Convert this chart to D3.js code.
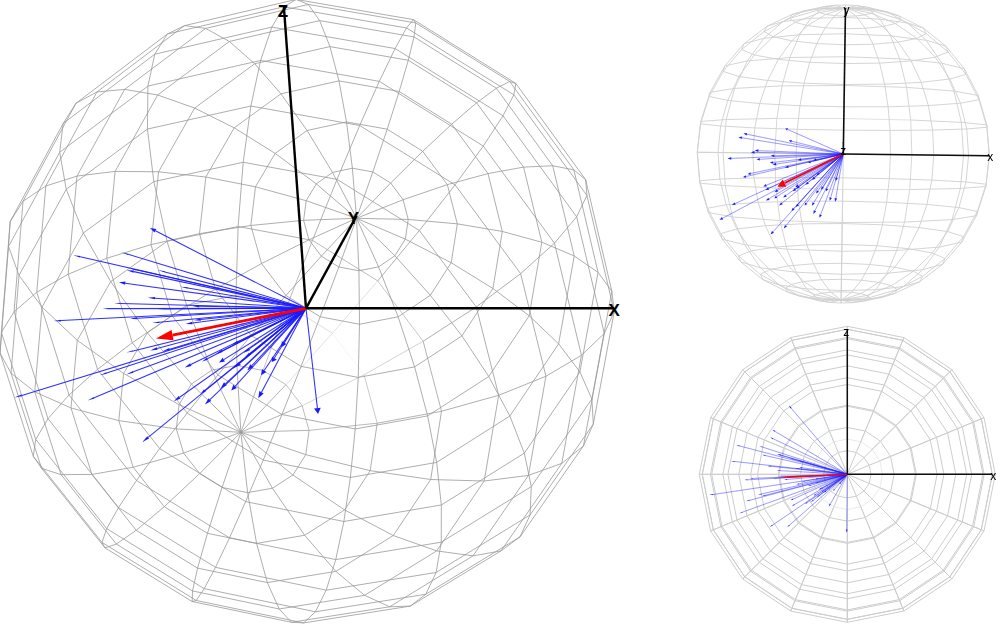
<!DOCTYPE html>
<html>
<head>
<meta charset="utf-8">
<style>
  html, body { margin: 0; background: #fff; }
  svg { display: block; }
  text { font-family: "Liberation Sans", sans-serif; fill: #000; text-anchor: middle; dominant-baseline: central; }
</style>
<script src="https://cdn.jsdelivr.net/npm/d3@7"></script>
</head>
<body>
<svg id="chart" width="1000" height="625"></svg>
<script>
// Blue vectors
const vecX = [-0.004, -0.43, -0.69, -0.725, -0.391, -0.608, -0.59, -0.76, -0.61, -0.483, -0.505, -0.48, -0.39, -0.314, -0.21, -0.25, -0.677, -0.72, -0.56, -0.524, -0.455, -0.5, -0.5, -0.745, -0.862, -0.435, -0.41, -0.34, -0.316, -0.32, -0.26, -0.214, -0.185, -0.186, -0.152, -0.12, -0.05, -0.09, -0.051, -0.324, -0.36, -0.27, -0.215, -0.2, -0.16, -0.365, -0.463];
const vecY = [0.087, 0.183, 0.133, 0.107, 0.092, 0.004, 0.016, -0.039, -0.046, -0.018, -0.067, -0.078, -0.095, -0.045, -0.046, -0.064, -0.151, -0.176, -0.235, -0.25, -0.26, -0.31, -0.33, -0.353, -0.473, -0.358, -0.305, -0.257, -0.24, -0.228, -0.217, -0.182, -0.15, -0.279, -0.252, -0.267, -0.188, -0.328, -0.331, -0.372, -0.407, -0.37, -0.366, -0.415, -0.449, -0.47, -0.527];
const vecZ = [-0.41, -0.378, -0.03, -0.04, -0.224, 0.195, 0.135, 0.2, -0.14, 0.14, -0.027, 0.026, 0.109, -0.05, -0.158, -0.19, -0.18, -0.26, -0.143, 0.055, 0.13, 0.24, -0.34, 0.085, -0.13, -0.012, -0.035, 0.04, 0.046, 0.09, -0.078, -0.06, -0.1, -0.1, -0.12, -0.21, -0.065, -0.106, -0.06, -0.064, -0.165, -0.19, -0.136, -0.03, -0.11, 0.43, 0.275];
// Mean vector in red
const meanVec = [-0.45, -0.23, -0.02];

// Wireframe sphere: slices and stacks
const sliceCount = 16;
const stackCount = 16;

const mainLabels = ['X', 'Y', 'Z'];
const topLabels = ['x', 'y', 'z'];
const sideLabels = ['x', 'y', 'z'];

const axes = [[1, 0, 0], [0, 1, 0], [0, 0, 1]];

const panels = [
    {
        name: 'main', ox: 306, oy: 308.3, scale: 306, dist: 7.3,
        r: [0.98, 0.186, -0.069], u: [0, 0.34, 0.94], w: [0.198, -0.92, 0.333],
        glow: [0.11, -0.09, 1], glowPower: 60, labels: mainLabels, hidden: [], fontSize: 17, fontWeight: 'bold',
        labelShift: [[0, 2], [-3, 3], [-1, 5]], meshShift: 3.5, meshStretch: 1.012,
        meshColor: '#999999', meshWidth: 0.8, axisWidth: 2.4, axisColor: '#000',
        blueWidth: 1.05, blueOpacity: 0.9, redWidth: 2.8, headBase: 0.002, headGain: 0.009, redHead: 0.017, soft: false
    },
    {
        name: 'top', ox: 843.3, oy: 154, scale: 146, dist: 5,
        r: [1, 0.015, 0], u: [-0.012, 1, 0], w: [0, 0, 1],
        glow: [0, 0, 1], glowPower: 30, labels: topLabels, hidden: [], fontSize: 12, fontWeight: 'normal',
        labelShift: [[1, 1], [1, 2], [0, -3]], meshShift: 0, meshStretch: 1,
        meshColor: '#d0d0d0', meshWidth: 0.9, axisWidth: 1.6, axisColor: '#111',
        blueWidth: 0.8, blueOpacity: 0.55, redWidth: 1.7, headBase: 0.009, headGain: 0, redHead: 0.028, soft: true
    },
    {
        name: 'side', ox: 847.3, oy: 474.3, scale: 145, dist: 5,
        r: [1, 0, 0], u: [0, 0, 1], w: [0, -1, 0],
        glow: [0, 0, 1], glowPower: 30, labels: sideLabels, hidden: ['y'], fontSize: 12, fontWeight: 'normal',
        labelShift: [[1, 2], [0, 0], [-1, 3]], meshShift: 0, meshStretch: 1,
        meshColor: '#cdcdcd', meshWidth: 1, axisWidth: 1.5, axisColor: '#111',
        blueWidth: 0.8, blueOpacity: 0.55, redWidth: 1.3, headBase: 0.003, headGain: 0.003, redHead: 0.006, soft: true
    }
];

const svg = d3.select('#chart');

svg.append('defs').append('filter')
    .attr('id', 'soft')
    .attr('x', '-5%').attr('y', '-5%').attr('width', '110%').attr('height', '110%')
    .append('feGaussianBlur')
    .attr('stdDeviation', 0.7);

const dot = (a, b) => a[0] * b[0] + a[1] * b[1] + a[2] * b[2];
const normalize = a => {
    const n = Math.sqrt(dot(a, a)) || 1;
    return a.map(c => c / n);
};

// Sphere point, pole on the y axis
function spherePoint(slice, stack) {
    const lon = slice / sliceCount * 2 * Math.PI;
    const lat = (stack / stackCount - 0.5) * Math.PI;
    return [Math.cos(lat) * Math.cos(lon), Math.sin(lat), Math.cos(lat) * Math.sin(lon)];
}

function buildMesh() {
    const segments = [];
    d3.range(sliceCount).forEach(i => {
        d3.range(stackCount).forEach(j => {
            // meridian piece
            segments.push([spherePoint(i, j), spherePoint(i, j + 1)]);
            // parallel piece, not at the poles
            if (j > 0) segments.push([spherePoint(i, j), spherePoint(i + 1, j)]);
        });
    });
    return segments;
}

function drawPanel(panel, mesh) {
    const g = svg.append('g').attr('class', panel.name);
    if (panel.soft) g.attr('filter', 'url(#soft)');

    const x = d3.scaleLinear().domain([-1, 1]).range([panel.ox - panel.scale, panel.ox + panel.scale]);
    const y = d3.scaleLinear().domain([-1, 1]).range([panel.oy + panel.scale, panel.oy - panel.scale]);
    // The wire sphere sits a little lower than the axes
    const meshY = d3.scaleLinear().domain([-1, 1]).range([
        panel.oy + panel.meshShift + panel.scale * panel.meshStretch,
        panel.oy + panel.meshShift - panel.scale * panel.meshStretch
    ]);

    const project = v => {
        const f = panel.dist / (panel.dist - dot(panel.w, v));
        return [x(dot(panel.r, v) * f), y(dot(panel.u, v) * f)];
    };
    const projectMesh = v => {
        const f = panel.dist / (panel.dist - dot(panel.w, v));
        return [x(dot(panel.r, v) * f), meshY(dot(panel.u, v) * f)];
    };

    const glow = normalize(panel.glow);
    const shade = seg => {
        const mid = normalize([0, 1, 2].map(k => seg[0][k] + seg[1][k]));
        const viewMid = [dot(panel.r, mid), dot(panel.u, mid), dot(panel.w, mid)];
        const t = Math.pow(Math.max(0, dot(viewMid, glow)), panel.glowPower);
        return d3.interpolateRgb(panel.meshColor, '#fff')(Math.min(1, t));
    };

    const line = d3.line();

    g.append('g').selectAll('line').data(mesh).join('line')
        .attr('x1', d => projectMesh(d[0])[0])
        .attr('y1', d => projectMesh(d[0])[1])
        .attr('x2', d => projectMesh(d[1])[0])
        .attr('y2', d => projectMesh(d[1])[1])
        .attr('stroke', shade)
        .attr('stroke-width', panel.meshWidth);

    // Arrow shaft and head, head built in 3D then projected
    const arrow = (group, vec, color, width, opacity, headLen, headRad) => {
        const len = Math.sqrt(dot(vec, vec));
        const dir = vec.map(c => c / len);
        const base = vec.map((c, k) => c - dir[k] * headLen);
        const p0 = project([0, 0, 0]);
        const pt = project(vec);
        const pb = project(base);
        const dx = pt[0] - pb[0];
        const dy = pt[1] - pb[1];
        const n = Math.sqrt(dx * dx + dy * dy) || 1;
        const rad = headRad * panel.scale;
        group.append('path')
            .attr('d', line([p0, pb]))
            .attr('fill', 'none')
            .attr('stroke', color)
            .attr('stroke-width', width)
            .attr('stroke-opacity', opacity);
        group.append('path')
            .attr('d', line([pt, [pb[0] - dy / n * rad, pb[1] + dx / n * rad], [pb[0] + dy / n * rad, pb[1] - dx / n * rad]]) + 'Z')
            .attr('fill', color);
    };

    const vectors = g.append('g').attr('class', 'vectors');
    vecX.forEach((vx, i) => {
        const vec = [vx, vecY[i], vecZ[i]];
        const len = Math.sqrt(dot(vec, vec));
        const rad = panel.headBase + panel.headGain * (1 - Math.abs(vx) / len);
        arrow(vectors, vec, '#1a1aff', panel.blueWidth, panel.blueOpacity, 0.024, rad);
    });
    arrow(g, meanVec, '#ff0000', panel.redWidth, 1, 0.055, panel.redHead);

    // Axes last so they stay on top
    const origin = project([0, 0, 0]);
    const axisData = axes
        .map((a, i) => ({ tip: project(a), label: panel.labels[i], shift: panel.labelShift[i] }))
        .filter(d => !panel.hidden.includes(d.label));

    g.append('g').selectAll('line').data(axisData).join('line')
        .attr('x1', origin[0]).attr('y1', origin[1])
        .attr('x2', d => d.tip[0]).attr('y2', d => d.tip[1])
        .attr('stroke', panel.axisColor)
        .attr('stroke-width', panel.axisWidth);

    g.append('g').selectAll('text').data(axisData).join('text')
        .attr('x', d => d.tip[0] + d.shift[0])
        .attr('y', d => d.tip[1] + d.shift[1])
        .attr('font-size', panel.fontSize)
        .attr('font-weight', panel.fontWeight)
        .text(d => d.label);
}

const mesh = buildMesh();
panels.forEach(p => drawPanel(p, mesh));
</script>
</body>
</html>
